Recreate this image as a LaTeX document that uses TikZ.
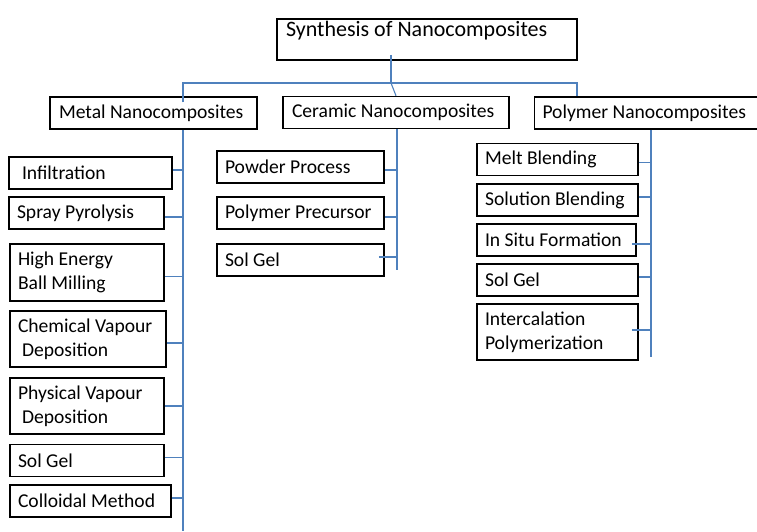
\documentclass[tikz,border=0pt]{standalone}
\usepackage{fontspec}
\setmainfont{Carlito}
\usepackage{tikz}
\usetikzlibrary{positioning, calc}
\definecolor{linkblue}{RGB}{79,129,189}
\tikzstyle{titlebox} = [
    rectangle,
    draw=black,
    line width=1.5pt,
    inner xsep=9pt,
    inner ysep=2pt,
    align=flush left,
    font=\fontsize{22}{22}\selectfont
]
\tikzstyle{groupbox} = [
    rectangle,
    draw=black,
    line width=1.5pt,
    inner xsep=9pt,
    minimum height=32pt,
    align=flush left,
    font=\fontsize{19.6}{24}\selectfont
]
\tikzstyle{methodbox} = [
    rectangle,
    draw=black,
    line width=1.5pt,
    inner xsep=8pt,
    minimum height=32pt,
    align=flush left,
    font=\fontsize{19.6}{24}\selectfont
]
\tikzstyle{link} = [
    line width=1.1pt,
    draw=linkblue
]
\begin{document}
\begin{tikzpicture}[x=1pt, y=-1pt]
        \useasboundingbox (0,0) rectangle (757,531);

        % Title
        \node[titlebox, text width=282pt] (title) at (427, 39.5) {Synthesis of Nanocomposites\\\mbox{}};

        % Groups
        \node[groupbox, text width=189pt] (metal) at (153.5, 113) {Metal Nanocomposites};
        \node[groupbox, text width=208pt] (ceramic) at (396, 112.5) {Ceramic Nanocomposites};
        \node[groupbox, inner xsep=8pt, text width=210pt] (polymer) at (647.5, 113) {\mbox{Polymer Nanocomposites}};

        % Branch points
        \coordinate (hub) at (391, 83);
        \coordinate (mleft) at (183, 83);
        \coordinate (pright) at (577, 83);
        \coordinate (mend) at (183, 531);
        \coordinate (cend) at (397, 270);
        \coordinate (pend) at (651, 357);

        % Metal methods
        \node[methodbox, text width=147pt] (infil) at (90.5, 173) {\hspace{5pt}Infiltration};
        \node[methodbox, text width=139pt] (spray) at (86.5, 213) {Spray Pyrolysis};
        \node[methodbox, text width=138pt, minimum height=57pt] (hebm) at (87, 272.5) {High Energy\\Ball Milling};
        \node[methodbox, text width=140pt, minimum height=56pt] (cvd) at (88, 339) {Chemical Vapour\\\hspace{4pt}Deposition};
        \node[methodbox, text width=138pt, minimum height=56pt] (pvd) at (87, 406) {Physical Vapour\\\hspace{4pt}Deposition};
        \node[methodbox, text width=138pt] (msolgel) at (87, 460.5) {Sol Gel};
        \node[methodbox, text width=145pt] (colloid) at (90.5, 501) {Colloidal Method};

        % Ceramic methods
        \node[methodbox, text width=151pt] (powder) at (300.5, 167) {Powder Process};
        \node[methodbox, text width=151pt] (precursor) at (300.5, 213) {Polymer Precursor};
        \node[methodbox, text width=151pt] (csolgel) at (300.5, 260) {Sol Gel};

        % Polymer methods
        \node[methodbox, text width=145pt] (melt) at (557.5, 159.5) {Melt Blending};
        \node[methodbox, text width=145pt] (solution) at (557.5, 200) {Solution Blending};
        \node[methodbox, text width=143pt] (insitu) at (556.5, 240) {In Situ Formation};
        \node[methodbox, text width=145pt] (psolgel) at (557.5, 280) {Sol Gel};
        \node[methodbox, text width=145pt, minimum height=56pt] (intercal) at (557.5, 332) {Intercalation\\Polymerization};

        % Top connectors
        \draw[link] ([yshift=6pt]hub |- title.south) -- (hub);
        \draw[link] ([yshift=-6pt]mleft |- metal.north) -- (mleft) -- (pright) -- (pright |- polymer.north);
        \draw[link] (hub) -- (ceramic.north);

        % Trunks
        \draw[link] (mend |- metal.south) -- (mend);
        \draw[link] (cend |- ceramic.south) -- (cend);
        \draw[link] (pend |- polymer.south) -- (pend);

        % Metal branches
        \draw[link] ([yshift=3pt]infil.east) -- ([yshift=3pt]infil.east -| mend);
        \draw[link] ([yshift=-4pt]spray.east) -- ([yshift=-4pt]spray.east -| mend);
        \draw[link] ([yshift=-4pt]hebm.east) -- ([yshift=-4pt]hebm.east -| mend);
        \draw[link] ([yshift=-4pt]cvd.east) -- ([yshift=-4pt]cvd.east -| mend);
        \draw[link] (pvd.east) -- (pvd.east -| mend);
        \draw[link] ([yshift=3pt]msolgel.east) -- ([yshift=3pt]msolgel.east -| mend);
        \draw[link] ([yshift=3pt]colloid.east) -- ([yshift=3pt]colloid.east -| mend);

        % Ceramic branches
        \draw[link] ([yshift=-3pt]powder.east) -- ([yshift=-3pt]powder.east -| cend);
        \draw[link] ([yshift=-4pt]precursor.east) -- ([yshift=-4pt]precursor.east -| cend);
        \draw[link] ([xshift=-6pt, yshift=3pt]csolgel.east) -- ([yshift=3pt]csolgel.east -| cend);

        % Polymer branches
        \draw[link] ([yshift=-3pt]melt.east) -- ([yshift=-3pt]melt.east -| pend);
        \draw[link] ([yshift=3pt]solution.east) -- ([yshift=3pt]solution.east -| pend);
        \draw[link] ([xshift=-5pt, yshift=-4pt]insitu.east) -- ([yshift=-4pt]insitu.east -| pend);
        \draw[link] ([yshift=3pt]psolgel.east) -- ([yshift=3pt]psolgel.east -| pend);
        \draw[link] ([xshift=-7pt, yshift=2pt]intercal.east) -- ([yshift=2pt]intercal.east -| pend);
    \end{tikzpicture}
\end{document}
